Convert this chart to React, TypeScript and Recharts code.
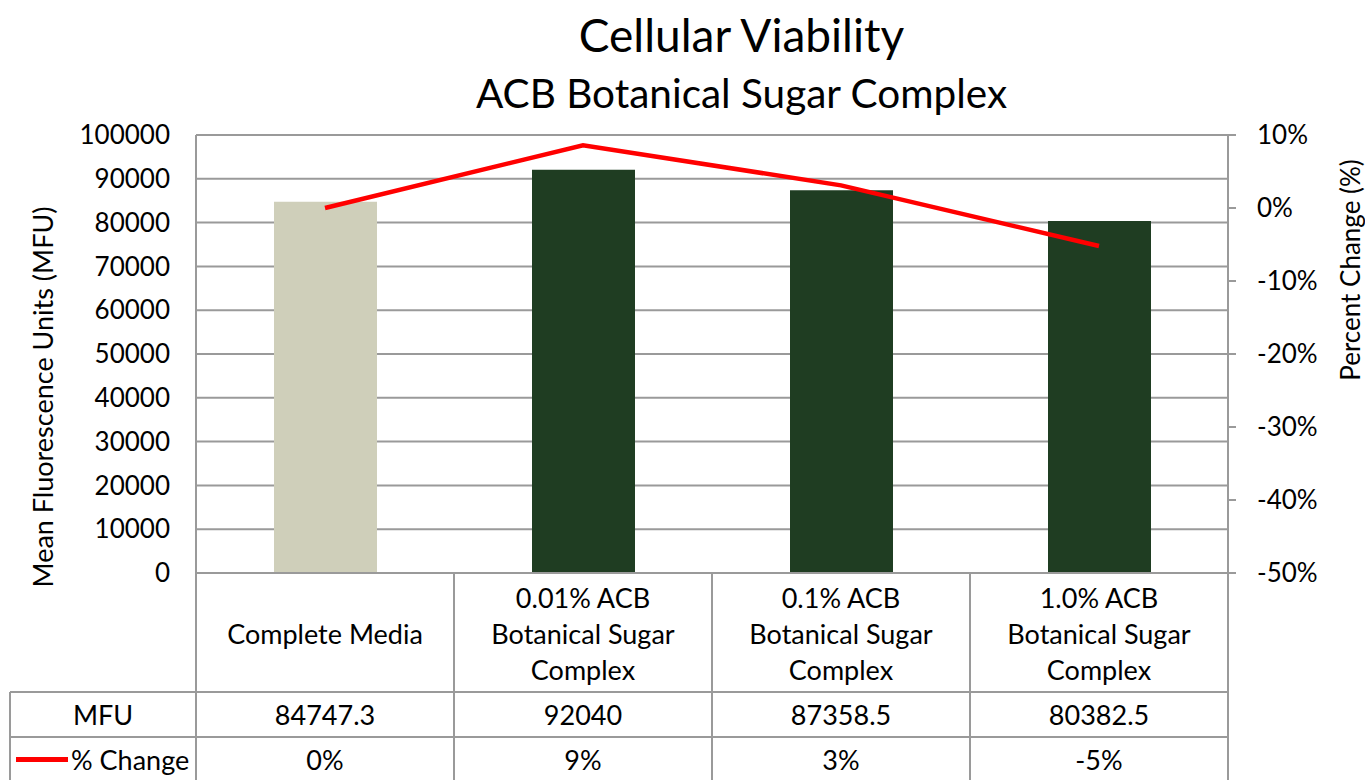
import { ComposedChart, Bar, Line, XAxis, YAxis, CartesianGrid, Cell } from "recharts";

const categories = [
  ["Complete Media"],
  ["0.01% ACB", "Botanical Sugar", "Complex"],
  ["0.1% ACB", "Botanical Sugar", "Complex"],
  ["1.0% ACB", "Botanical Sugar", "Complex"],
];
const mfuValues = [84747.3, 92040, 87358.5, 80382.5];
const mfuLabels = ["84747.3", "92040", "87358.5", "80382.5"];
const pctChange = [0, 0.086, 0.031, -0.052];
const pctLabels = ["0%", "9%", "3%", "-5%"];
const mfuTicks = [0, 10000, 20000, 30000, 40000, 50000, 60000, 70000, 80000, 90000, 100000];
const pctTicks = [-0.5, -0.4, -0.3, -0.2, -0.1, 0, 0.1];
const barColors = ["#cfcfba", "#1f3d22", "#1f3d22", "#1f3d22"];

const W = 1365;
const H = 780;
const LEFT = 196;
const RIGHT = 137;
const TOP = 135;
const XAXIS_H = 207;
const COL_W = (W - LEFT - RIGHT) / categories.length;
const FONT = "Lato, 'Open Sans', sans-serif";
const FS = 26;
const FS_CAT = 27;
const GRID = "#9a9a9a";

const data = categories.map((c, i) => ({
  name: c.join(" "),
  lines: c,
  mfu: mfuValues[i],
  pct: pctChange[i],
}));

const TableTick = (props: any) => {
  const { x, y, payload } = props;
  const i = payload.index;
  const left = x - COL_W / 2;
  const right = x + COL_W / 2;
  const mfuTop = y + 119;
  const pctTop = y + 164;
  const bottom = y + XAXIS_H;
  const lines = categories[i];
  const catMid = y + 60;
  const lh = 36;
  return (
    <g fontFamily={FONT} fontSize={FS_CAT} fill="#000">
      <line x1={left} y1={y} x2={left} y2={bottom} stroke={GRID} strokeWidth={2} />
      {i === categories.length - 1 && (
        <line x1={right} y1={y} x2={right} y2={bottom} stroke={GRID} strokeWidth={2} />
      )}
      <line x1={left} y1={mfuTop} x2={right} y2={mfuTop} stroke={GRID} strokeWidth={2} />
      <line x1={left} y1={pctTop} x2={right} y2={pctTop} stroke={GRID} strokeWidth={2} />
      {lines.map((t, k) => (
        <text
          key={k}
          x={x}
          y={catMid + (k - (lines.length - 1) / 2) * lh}
          textAnchor="middle"
          dominantBaseline="central"
        >
          {t}
        </text>
      ))}
      <text x={x} y={(mfuTop + pctTop) / 2} textAnchor="middle" dominantBaseline="central">
        {mfuLabels[i]}
      </text>
      <text x={x} y={(pctTop + bottom) / 2 + 1} textAnchor="middle" dominantBaseline="central">
        {pctLabels[i]}
      </text>
      {i === 0 && (
        <g>
          <line x1={10} y1={mfuTop} x2={left} y2={mfuTop} stroke={GRID} strokeWidth={2} />
          <line x1={10} y1={pctTop} x2={left} y2={pctTop} stroke={GRID} strokeWidth={2} />
          <line x1={10} y1={mfuTop} x2={10} y2={bottom} stroke={GRID} strokeWidth={2} />
          <text x={103} y={(mfuTop + pctTop) / 2} textAnchor="middle" dominantBaseline="central">
            MFU
          </text>
          <line x1={16} y1={(pctTop + bottom) / 2 + 1} x2={68} y2={(pctTop + bottom) / 2 + 1} stroke="#ff0000" strokeWidth={5} />
          <text x={71} y={(pctTop + bottom) / 2 + 1} dominantBaseline="central">
            % Change
          </text>
        </g>
      )}
    </g>
  );
};

const LeftLabel = (props: any) => {
  const { viewBox } = props;
  const cx = viewBox.x + 42;
  const cy = 397;
  return (
    <text x={cx} y={cy} transform={`rotate(-90 ${cx} ${cy})`} textAnchor="middle" dominantBaseline="central" fontFamily={FONT} fontSize={FS_CAT} fill="#000">
      Mean Fluorescence Units (MFU)
    </text>
  );
};

const RightLabel = (props: any) => {
  const { viewBox } = props;
  const cx = viewBox.x + 122;
  const cy = 270;
  return (
    <text x={cx} y={cy} transform={`rotate(-90 ${cx} ${cy})`} textAnchor="middle" dominantBaseline="central" fontFamily={FONT} fontSize={FS} fill="#000">
      Percent Change (%)
    </text>
  );
};

const App = () => {
  return (
    <div style={{ position: "absolute", left: 0, top: 0, width: W, height: H, background: "#fff", fontFamily: FONT }}>
      <div style={{ position: "absolute", left: 0, width: W, top: 8, textAlign: "center", paddingLeft: 118, boxSizing: "border-box", fontSize: 46, color: "#000", lineHeight: "54px" }}>
        Cellular Viability
      </div>
      <div style={{ position: "absolute", left: 0, width: W, top: 70, textAlign: "center", paddingLeft: 118, boxSizing: "border-box", fontSize: 40.5, color: "#000", lineHeight: "46px" }}>
        ACB Botanical Sugar Complex
      </div>
      <ComposedChart width={W} height={H} data={data} margin={{ top: TOP, right: 0, left: 0, bottom: 0 }}>
        <CartesianGrid yAxisId="left" vertical={false} stroke={GRID} strokeWidth={2} />
        <XAxis
          dataKey="name"
          height={XAXIS_H}
          interval={0}
          tickLine={false}
          tickSize={0}
          tickMargin={0}
          axisLine={{ stroke: GRID, strokeWidth: 2 }}
          tick={(p: any) => <TableTick {...p} />}
        />
        <YAxis
          yAxisId="left"
          width={LEFT}
          domain={[0, 100000]}
          ticks={mfuTicks}
          interval={0}
          tickLine={false}
          tickMargin={20}
          axisLine={{ stroke: GRID, strokeWidth: 2 }}
          tick={{ fontFamily: FONT, fontSize: FS, fill: "#000" }}
          label={<LeftLabel />}
        />
        <YAxis
          yAxisId="right"
          orientation="right"
          width={RIGHT}
          domain={[-0.5, 0.1]}
          ticks={pctTicks}
          interval={0}
          tickSize={8}
          tickMargin={21}
          tickLine={{ stroke: GRID, strokeWidth: 2 }}
          axisLine={{ stroke: GRID, strokeWidth: 2 }}
          tickFormatter={(v: number) => `${Math.round(v * 100)}%`}
          tick={{ fontFamily: FONT, fontSize: FS, fill: "#000", textAnchor: "start" }}
          label={<RightLabel />}
        />
        <Bar yAxisId="left" dataKey="mfu" barSize={103} isAnimationActive={false}>
          {data.map((d, i) => (
            <Cell key={d.name} fill={barColors[i]} />
          ))}
        </Bar>
        <Line yAxisId="right" type="linear" dataKey="pct" stroke="#ff0000" strokeWidth={4.5} dot={false} isAnimationActive={false} />
      </ComposedChart>
    </div>
  );
};

export default App;
